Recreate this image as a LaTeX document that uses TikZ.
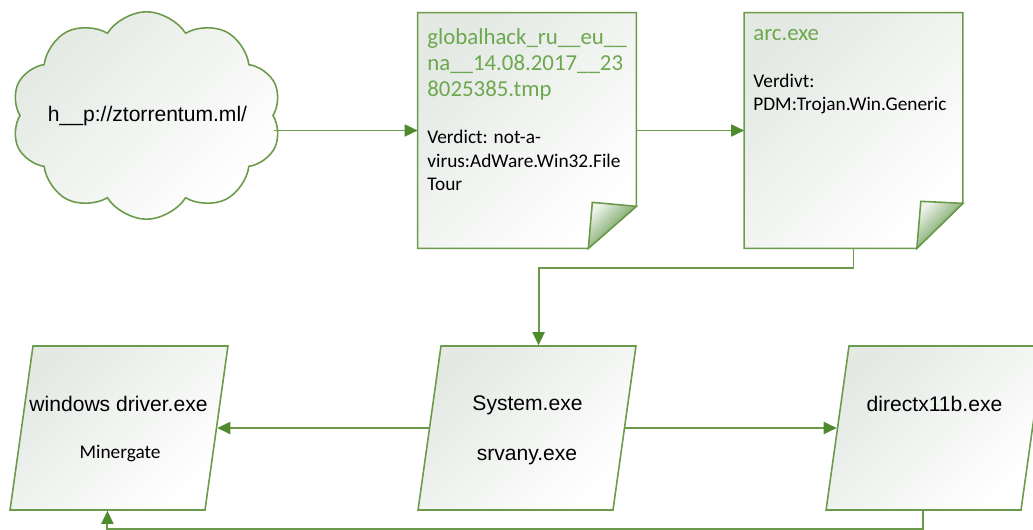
\documentclass[tikz,border=0pt]{standalone}
\usepackage{fontspec}
\setmainfont{Liberation Sans}
\newfontfamily\carlito{Carlito}
\usepackage{tikz}
\usetikzlibrary{shapes.geometric, shapes.symbols, arrows.meta, positioning, calc}
\definecolor{linegreen}{HTML}{6B9B4A}
\definecolor{tipgreen}{HTML}{4F8A2E}
\definecolor{titlegreen}{HTML}{6CA84E}
\definecolor{foldgreen}{HTML}{3F7F22}
\definecolor{shadegray}{HTML}{E4E9E4}
\tikzset{%
flow/.style={draw=linegreen,line width=1.1pt,-{Triangle[length=7.4pt,width=6.8pt,color=tipgreen]}},%
shapeline/.style={draw=linegreen,line width=0.9pt,top color=shadegray,bottom color=white,shading angle=45},%
foldline/.style={draw=linegreen,line width=0.9pt,top color=foldgreen!10!white,bottom color=foldgreen,shading angle=45},%
pagebox/.style={rectangle,inner sep=0,minimum width=4.36cm,minimum height=4.7cm},%
para/.style={trapezium,trapezium left angle=82.4,trapezium right angle=97.6,trapezium stretches=true,minimum width=4.36cm,minimum height=3.28cm,inner sep=3pt,shapeline},%
titletext/.style={anchor=north west,inner sep=0,align=left,text=titlegreen,font=\carlito\fontsize{13}{14.8}\selectfont},%
verdicttext/.style={anchor=north west,inner sep=0,align=left,font=\carlito\fontsize{11}{13.3}\selectfont},%
boxtext/.style={anchor=base,inner sep=0,font=\fontsize{12}{14}\selectfont}%
}
\begin{document}
\begin{tikzpicture}[x=0.02cm,y=-0.02cm]%
\useasboundingbox (0,0) rectangle (1033,530);%
% cloud with the url
\node[cloud,cloud puffs=10,cloud puff arc=115,aspect=1.3,minimum width=5.4cm,minimum height=4.15cm,shapeline] (cloud) at (146.5,115.5) {};%
\node[boxtext] (url) at (147.5,121.5) {h\_\_p://ztorrentum.ml/};%
% the two files
\node[pagebox] (doc1) at (527,130.5) {};%
\node[pagebox] (doc2) at (853.5,130.5) {};%
\shadedraw[shapeline] (doc1.north west) -- (doc1.north east) -- ($(doc1.south east)+(0,-42)$) -- ($(doc1.south east)+(-48,0)$) -- (doc1.south west) -- cycle;%
\shadedraw[foldline] ($(doc1.south east)+(0,-42)$) -- ($(doc1.south east)+(-44,-46)$) -- ($(doc1.south east)+(-48,0)$) -- cycle;%
\shadedraw[shapeline] (doc2.north west) -- (doc2.north east) -- ($(doc2.south east)+(0,-45)$) -- ($(doc2.south east)+(-46,0)$) -- (doc2.south west) -- cycle;%
\shadedraw[foldline] ($(doc2.south east)+(0,-45)$) -- ($(doc2.south east)+(-42,-47)$) -- ($(doc2.south east)+(-46,0)$) -- cycle;%
\node[titletext] (doc1title) at (427,25.8) {\strut globalhack\_ru\_\_eu\_\_\\na\_\_14.08.2017\_\_23\\8025385.tmp};%
\node[verdicttext] (doc1verdict) at (427,127) {\strut Verdict: not-a-\\virus:AdWare.Win32.File\\Tour};%
\node[titletext] (doc2title) at (753,21.8) {\strut arc.exe};%
\node[verdicttext] (doc2verdict) at (753,70.5) {\strut Verdivt:\\PDM:Trojan.Win.Generic};%
% the three processes
\node[para] (win) at (119,428) {};%
\node[para] (sys) at (527,428) {};%
\node[para] (dx) at (935,428) {};%
\node[boxtext] (wintxt) at (118.5,411.5) {windows driver.exe};%
\node[boxtext,font=\carlito\fontsize{11}{13}\selectfont] (minergate) at (120,458) {Minergate};%
\node[boxtext] (systxt) at (527.5,410) {System.exe};%
\node[boxtext] (srvtxt) at (527,460) {srvany.exe};%
\node[boxtext] (dxtxt) at (934.5,411.5) {directx11b.exe};%
% connectors
\draw[flow] (cloud.east |- doc1.west) -- (doc1.west);%
\draw[flow] (doc1.east) -- (doc2.west);%
\draw[flow] (doc2.south) -- ++(0,20) -| (sys.top side);%
\draw[flow] (sys.left side) -- (win.right side);%
\draw[flow] (sys.right side) -- (dx.left side);%
\draw[flow] (dx.bottom side) -- ++(0,18) -| (win.bottom side);%
\end{tikzpicture}
\end{document}
